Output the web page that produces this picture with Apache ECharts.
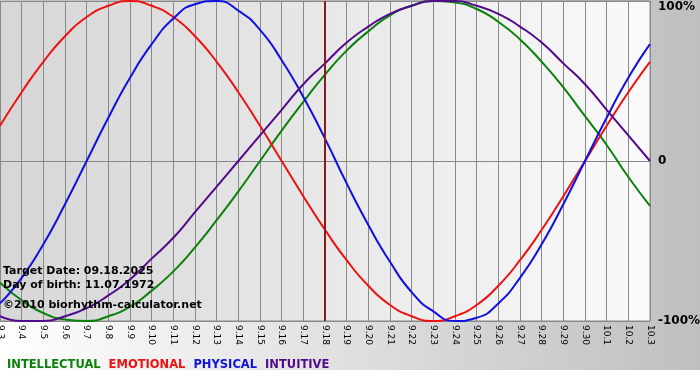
<!DOCTYPE html>
<html>
<head>
<meta charset="utf-8">
<script src="https://cdn.jsdelivr.net/npm/echarts@6/dist/echarts.min.js"></script>
<style>
  html, body { margin: 0; padding: 0; background: #fff; }
  #chart-panel { width: 700px; height: 380px; }
</style>
</head>
<body>
<div id="chart-panel"></div>
<script>
// days shown (month.day), target date in the middle
const days = ['9.3', '9.4', '9.5', '9.6', '9.7', '9.8', '9.9', '9.10', '9.11', '9.12',
  '9.13', '9.14', '9.15', '9.16', '9.17', '9.18', '9.19', '9.20', '9.21', '9.22',
  '9.23', '9.24', '9.25', '9.26', '9.27', '9.28', '9.29', '9.30', '10.1', '10.2', '10.3']
const targetDay = '9.18'

// cycle values, -1 .. 1
const intellectual = [-0.76, -0.87, -0.95, -0.99, -1.00, -0.97, -0.91, -0.81, -0.69, -0.54,
  -0.37, -0.19, 0, 0.19, 0.37, 0.54, 0.69, 0.81, 0.91, 0.97,
  1.00, 0.99, 0.95, 0.87, 0.76, 0.62, 0.46, 0.28, 0.10, -0.10, -0.28]
const emotional = [0.22, 0.43, 0.62, 0.78, 0.90, 0.97, 1.00, 0.97, 0.90, 0.78,
  0.62, 0.43, 0.22, 0, -0.22, -0.43, -0.62, -0.78, -0.90, -0.97,
  -1.00, -0.97, -0.90, -0.78, -0.62, -0.43, -0.22, 0, 0.22, 0.43, 0.62]
const physical = [-0.89, -0.73, -0.52, -0.27, 0, 0.27, 0.52, 0.73, 0.89, 0.98,
  1.00, 0.94, 0.82, 0.63, 0.40, 0.14, -0.14, -0.40, -0.63, -0.82,
  -0.94, -1.00, -0.98, -0.89, -0.73, -0.52, -0.27, 0, 0.27, 0.52, 0.73]
const intuitive = [-0.97, -1.00, -1.00, -0.97, -0.92, -0.84, -0.74, -0.61, -0.48, -0.32,
  -0.16, 0, 0.16, 0.32, 0.48, 0.61, 0.74, 0.84, 0.92, 0.97,
  1.00, 1.00, 0.97, 0.92, 0.84, 0.74, 0.61, 0.48, 0.32, 0.16, 0]

const yTicks = { '1': '100%', '0': '0', '-1': '-100%' }

const infoLines = ['Target Date: 09.18.2025', 'Day of birth: 11.07.1972', '\u00a92010 biorhythm-calculator.net']

const colors = {
  INTELLECTUAL: '#0a820a',
  EMOTIONAL: '#ee1111',
  PHYSICAL: '#1010e0',
  INTUITIVE: '#520a8c'
}

function cycleSeries (name, data) {
  return {
    name: name,
    type: 'line',
    data: data,
    smooth: 0.55,
    symbol: 'none',
    lineStyle: { width: 2, color: colors[name] },
    itemStyle: { color: colors[name] }
  }
}

const chart = echarts.init(document.getElementById('chart-panel'))

const font = 'DejaVu Sans, Verdana, sans-serif'

const option = {
  animation: false,
  backgroundColor: {
    type: 'linear', x: 0, y: 0, x2: 1, y2: 0,
    colorStops: [{ offset: 0, color: '#ffffff' }, { offset: 1, color: '#bfbfbf' }]
  },
  grid: {
    left: 0,
    top: 1,
    right: 50,
    bottom: 59,
    outerBoundsMode: 'none',
    containLabel: false,
    show: true,
    borderColor: '#888',
    borderWidth: 1,
    backgroundColor: {
      type: 'linear', x: 0, y: 0, x2: 1, y2: 0,
      colorStops: [{ offset: 0, color: '#d6d6d6' }, { offset: 1, color: '#fafafa' }]
    }
  },
  legend: {
    left: -3,
    top: 354,
    icon: 'none',
    itemWidth: 0,
    itemHeight: 10,
    itemGap: 3,
    textStyle: { fontFamily: font, fontSize: 11.5, fontWeight: 'bold' },
    data: Object.keys(colors).map(n => ({ name: n, textStyle: { color: colors[n] } }))
  },
  xAxis: {
    type: 'category',
    data: days,
    boundaryGap: false,
    axisLine: { lineStyle: { color: '#888', width: 1 } },
    axisTick: { show: true, length: 3, lineStyle: { color: '#888' }, interval: 0 },
    axisLabel: {
      interval: 0,
      rotate: -90,
      margin: 4,
      color: '#000',
      fontFamily: font,
      fontSize: 9
    },
    splitLine: { show: true, interval: 0, lineStyle: { color: '#8a8a8a', width: 1 } }
  },
  yAxis: {
    type: 'value',
    position: 'right',
    min: -1,
    max: 1,
    interval: 1,
    axisLine: { show: false },
    axisTick: { show: false },
    axisLabel: {
      margin: 8,
      color: '#000',
      fontFamily: font,
      fontSize: 12,
      fontWeight: 'bold',
      formatter: v => v === 1 ? '{top|' + yTicks[v] + '}' : yTicks[String(v)],
      rich: {
        top: { padding: [12, 0, 0, 0], fontFamily: font, fontSize: 12, fontWeight: 'bold', color: '#000' }
      }
    },
    splitLine: { show: true, lineStyle: { color: '#888', width: 1 } }
  },
  graphic: [
    {
      type: 'rect', left: 0, top: 370, z: -1,
      shape: { width: 700, height: 10 },
      style: { fill: '#fff' }
    }
  ].concat(infoLines.map((t, i) => ({
    type: 'text',
    left: 3,
    top: [266, 280, 300][i],
    z: 10,
    style: { text: t, fill: '#000', font: 'bold 11px ' + font }
  }))),
  series: [
    cycleSeries('INTELLECTUAL', intellectual),
    cycleSeries('EMOTIONAL', emotional),
    cycleSeries('PHYSICAL', physical),
    Object.assign(cycleSeries('INTUITIVE', intuitive), {
      markLine: {
        silent: true,
        symbol: 'none',
        label: { show: false },
        lineStyle: { color: '#8c1c1c', width: 2, type: 'solid' },
        data: [{ xAxis: targetDay }]
      }
    })
  ]
}

chart.setOption(option)
</script>
</body>
</html>
